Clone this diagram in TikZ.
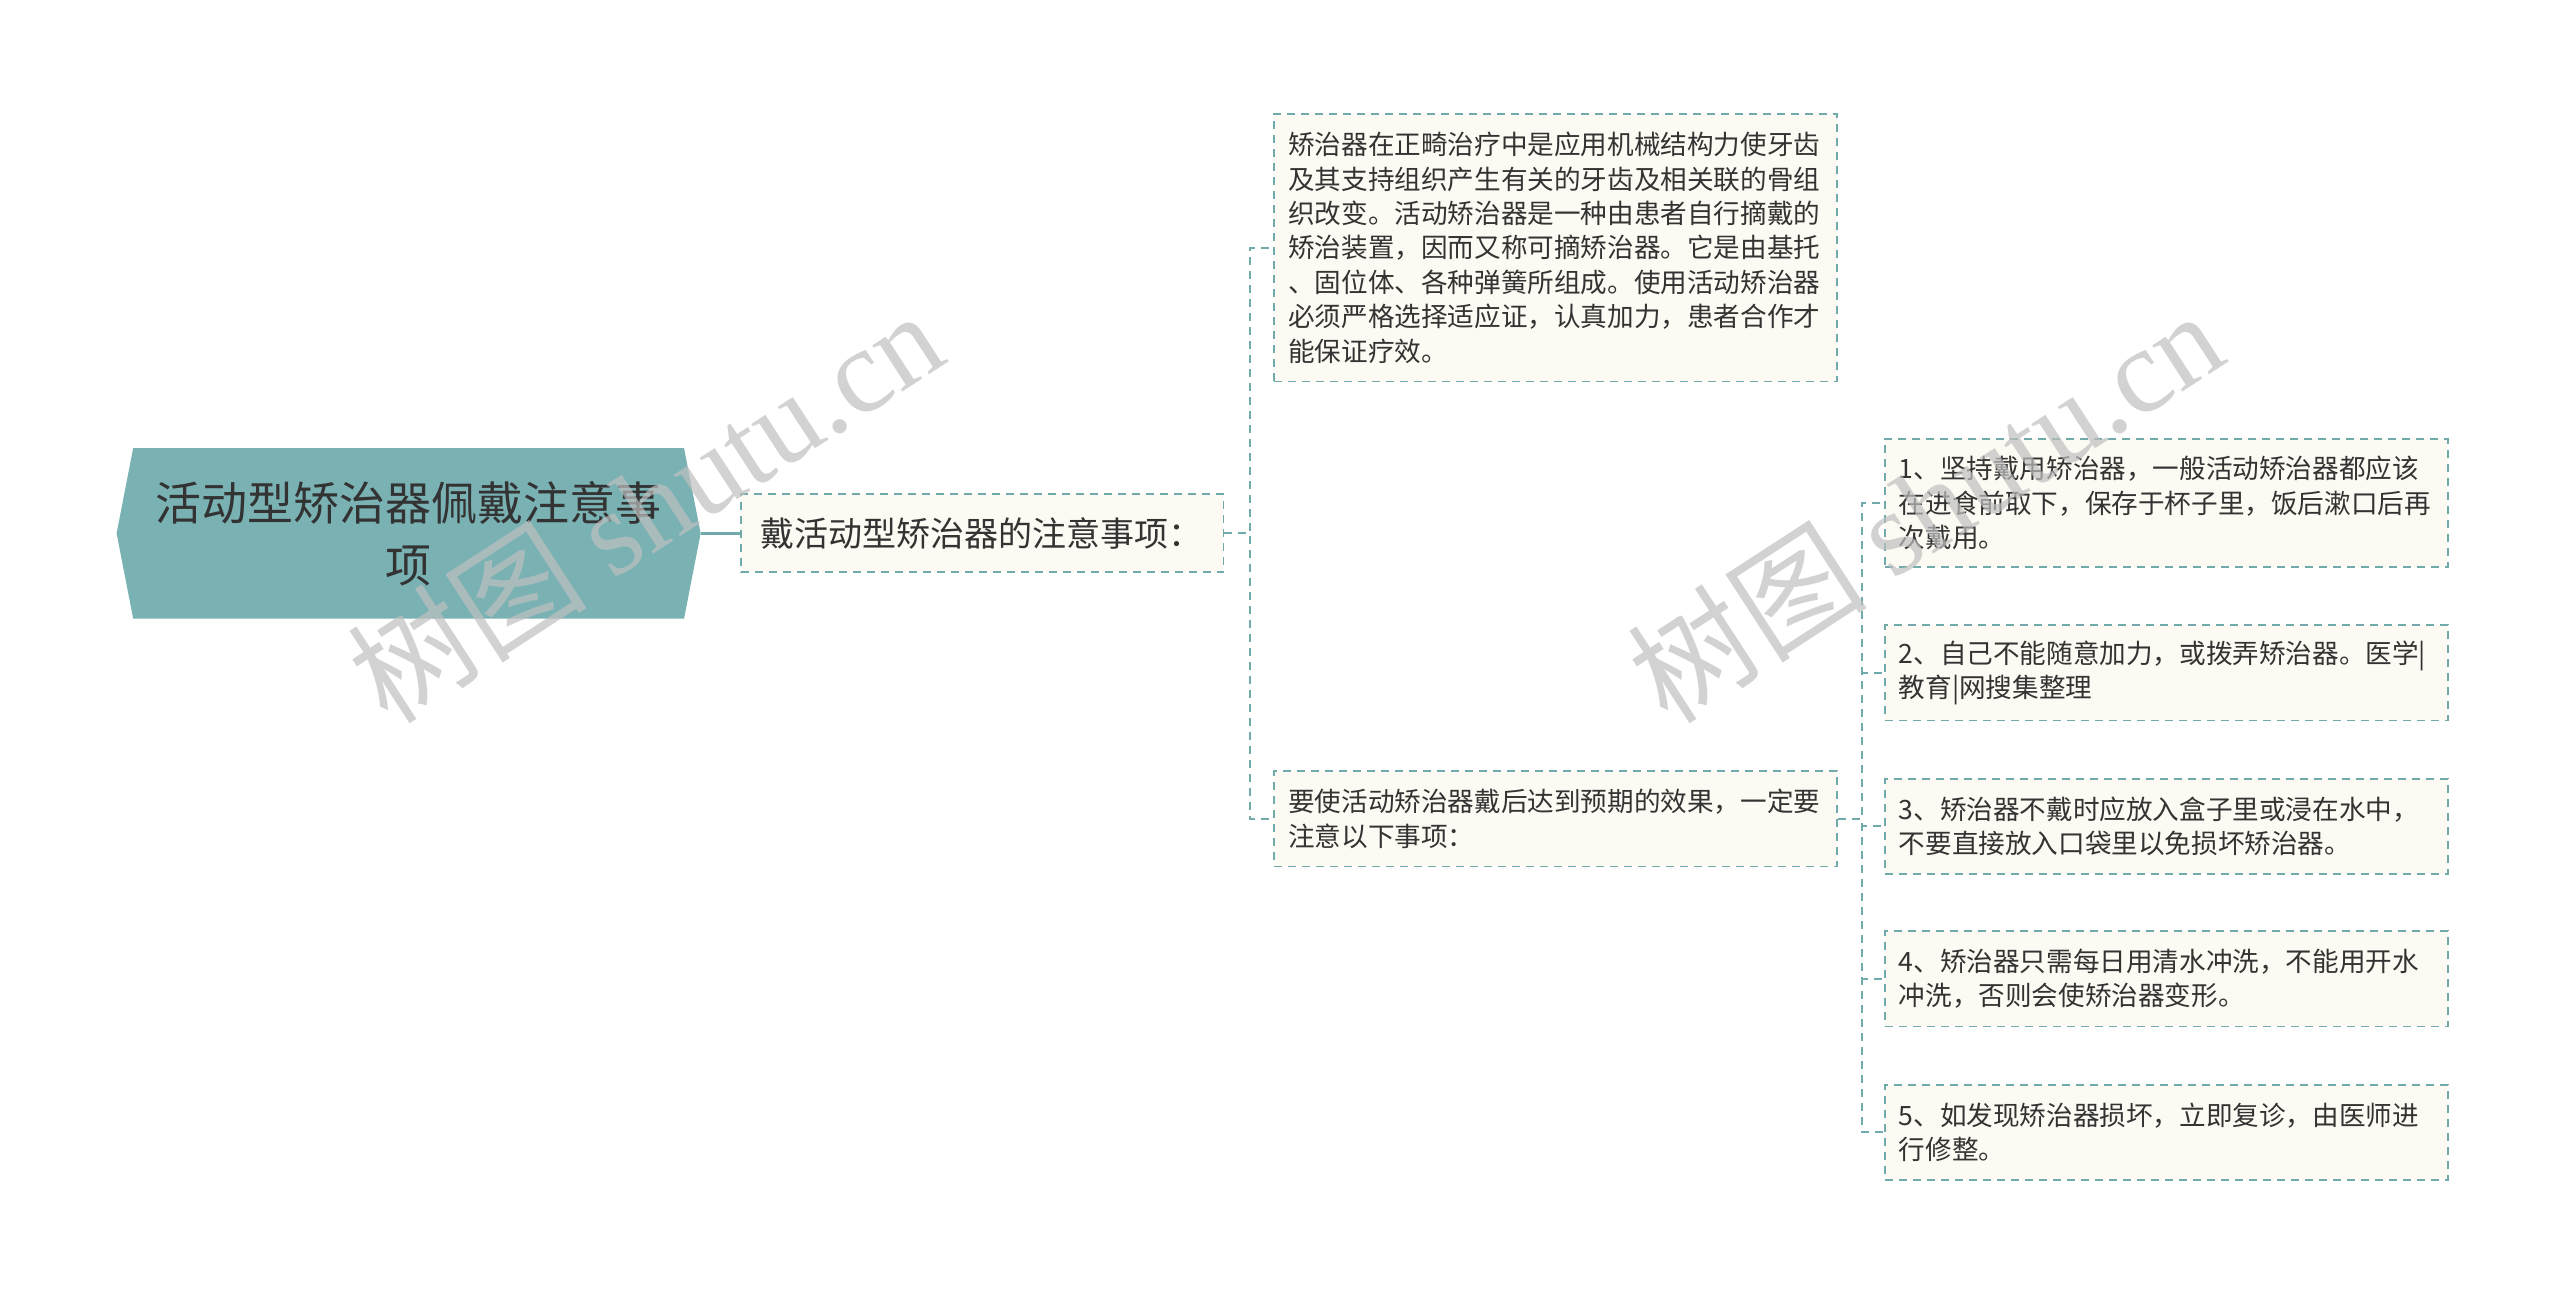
\documentclass[tikz,border=0pt]{standalone}
\usepackage{fontspec}
\setmainfont{Noto Sans CJK SC}
\newfontfamily\wmfont{Liberation Serif}
\usetikzlibrary{shapes.symbols}
\definecolor{rootfill}{RGB}{122,178,180}
\definecolor{lineteal}{RGB}{112,170,170}
\definecolor{notefill}{RGB}{252,250,242}
\definecolor{inktext}{RGB}{51,51,51}
\begin{document}
\begin{tikzpicture}[x=0.8205pt, y=-0.8205pt,
    root/.style = {signal, signal to=east and west, signal pointer angle=158, fill=rootfill, text=inktext,
        minimum width=292pt, minimum height=85.3pt, inner sep=0pt, align=center, font=\fontsize{23}{31}\selectfont},
    topic/.style = {draw=lineteal, dash pattern=on 4pt off 3pt, line width=0.9pt, fill=notefill, text=inktext,
        anchor=west, align=left, inner xsep=7pt, inner ysep=0pt},
    note/.style = {topic, text width=267.4pt, font=\fontsize{13.3}{17.2}\selectfont, minimum height=47.6pt},
    link/.style = {draw=lineteal, line width=1.6pt},
    branch/.style = {draw=lineteal, line width=0.9pt, dash pattern=on 4pt off 3pt},
    watermark/.style = {text=black!25, text opacity=0.7, rotate=33, font=\fontsize{60}{60}\selectfont}]
                \fill[white] (0,0) rectangle (1560,788);

                \node[root] at (249,325) (root) {活动型矫治器佩戴注意事\\项};
                \node[topic, text width=221.6pt, inner xsep=9.8pt, minimum height=39pt, font=\fontsize{17}{22}\selectfont] at (451,325) (notes) {戴活动型矫治器的注意事项：};

                \node[note, minimum height=133.7pt] at (776,151) (about) {矫治器在正畸治疗中是应用机械结构力使牙齿\\及其支持组织产生有关的牙齿及相关联的骨组\\织改变。活动矫治器是一种由患者自行摘戴的\\矫治装置，因而又称可摘矫治器。它是由基托\\、固位体、各种弹簧所组成。使用活动矫治器\\必须严格选择适应证，认真加力，患者合作才\\能保证疗效。};
                \node[note] at (776,499) (effect) {要使活动矫治器戴后达到预期的效果，一定要\\注意以下事项：};

                \node[note, minimum height=64pt] at (1148,306.5) (tip1) {1、坚持戴用矫治器，一般活动矫治器都应该\\在进食前取下，保存于杯子里，饭后漱口后再\\次戴用。};
                \node[note] at (1148,410) (tip2) {2、自己不能随意加力，或拨弄矫治器。医学|\\教育|网搜集整理};
                \node[note] at (1148,503.5) (tip3) {3、矫治器不戴时应放入盒子里或浸在水中，\\不要直接放入口袋里以免损坏矫治器。};
                \node[note] at (1148,596.5) (tip4) {4、矫治器只需每日用清水冲洗，不能用开水\\冲洗，否则会使矫治器变形。};
                \node[note] at (1148,690) (tip5) {5、如发现矫治器损坏，立即复诊，由医师进\\行修整。};

                \draw[link] (root.east) -- (notes.west);
                \draw[branch] (notes.east) -- ++(15.5,0) |- (about.west);
                \draw[branch] (notes.east) -- ++(15.5,0) |- (effect.west);
                \draw[branch] (effect.east) -- ++(14.5,0) |- (tip1.west);
                \draw[branch] (effect.east) -- ++(14.5,0) |- (tip2.west);
                \draw[branch] (effect.east) -- ++(14.5,0) |- (tip3.west);
                \draw[branch] (effect.east) -- ++(14.5,0) |- (tip4.west);
                \draw[branch] (effect.east) -- ++(14.5,0) |- (tip5.west);

                \node[watermark] at (393,308) (wm1) {树图 {\wmfont shutu.cn}};
                \node[watermark] at (1173,308) (wm2) {树图 {\wmfont shutu.cn}};
            \end{tikzpicture}
\end{document}
